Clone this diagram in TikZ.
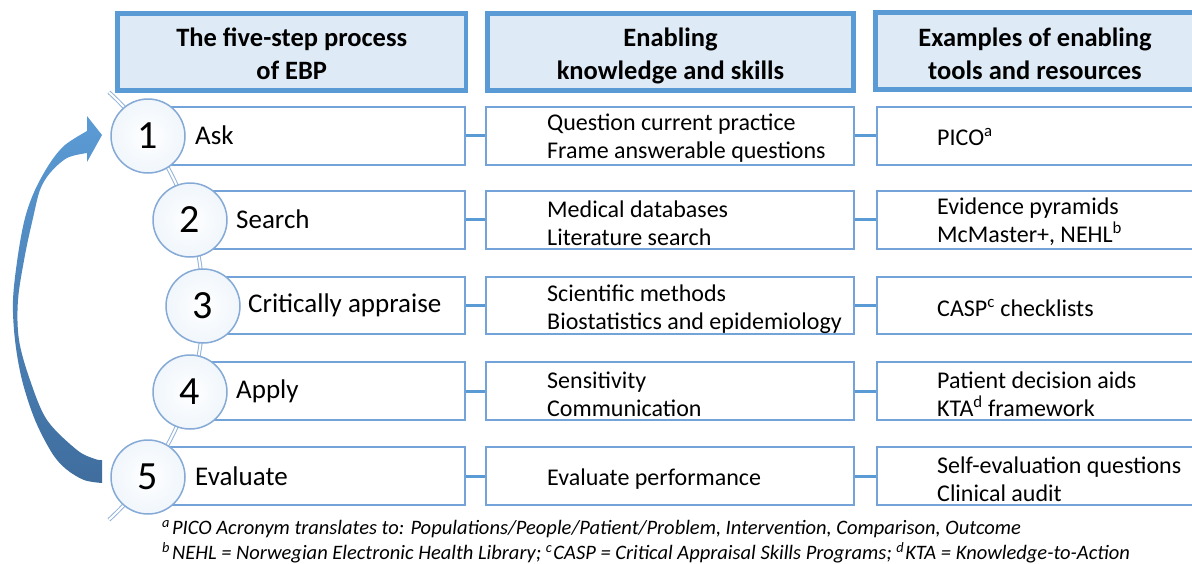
\documentclass[tikz,border=0pt]{standalone}
\usepackage{fontspec}
\setmainfont{Carlito}
\definecolor{hdrblue}{HTML}{5B9BD5}
\definecolor{hdrfill}{HTML}{DEEBF7}
\definecolor{boxblue}{HTML}{74A3DA}
\definecolor{circblue}{HTML}{86AAD6}
\definecolor{chainblue}{HTML}{93B3DA}
\definecolor{arrowtop}{HTML}{5B9BD5}
\definecolor{arrowbot}{HTML}{3F6D9E}
\begin{document}
\begin{tikzpicture}[x=1pt,y=-1pt,
  hdr/.style={draw=hdrblue, line width=4.5pt, fill=hdrfill, inner sep=0pt, minimum height=77pt},
  hdrtext/.style={align=center, inner sep=0pt, font=\fontsize{26.5}{33}\selectfont\bfseries},
  rowbox/.style={draw=boxblue, line width=2pt, fill=white, inner sep=0pt, minimum height=58pt},
  stepcirc/.style={circle, draw=circblue, line width=1.5pt, inner color=white, outer color=hdrfill!45,
    minimum size=74pt, inner sep=0pt, font=\fontsize{40}{40}\selectfont},
  lbl/.style={anchor=west, inner sep=0pt, font=\fontsize{27}{32}\selectfont},
  txt/.style={anchor=west, inner sep=0pt, align=left, font=\fontsize{24}{28}\selectfont},
  note/.style={anchor=west, inner sep=0pt, font=\fontsize{20.5}{24}\selectfont\itshape},
  link/.style={draw=hdrblue, line width=3pt},
  chain/.style={draw=chainblue, line width=1pt, double=white, double distance=2pt}]
\clip (0,0) rectangle (1192,563);

% loop-back arrow on the left
\shade[top color=arrowtop, bottom color=arrowbot]
  plot[smooth, tension=0.55] coordinates {(102,483) (84,480) (66,469) (52,453) (35,420) (22,380)
    (15,340) (13,300) (18,255) (25,218) (35,190) (50,163) (65,145) (87,131)}
  -- (87,116) -- (102,135) -- (87,162) --
  plot[smooth, tension=0.55] coordinates {(87,153) (67,158) (50,173) (40,190) (33,218) (25,255)
    (18,300) (19,340) (30,380) (47,420) (77,450) (95,459) (102,460)}
  -- cycle;

% chain linking the step circles
\draw[chain] (-87,306) ++(-47.5:290) arc[start angle=-47.5, end angle=47.5, radius=290];

% column headers
\node[hdr, minimum width=348.5pt] (h1) at (291.75,52) {};
\node[hdr, minimum width=366pt] (h2) at (670.5,52) {};
\node[hdr, minimum width=340pt] (h3) at (1045.5,51) {};
\node[hdrtext] (h1t) at (291.75,56) {The five-step process\strut\\of EBP\strut};
\node[hdrtext] (h2t) at (670.5,56) {Enabling\strut\\knowledge and skills\strut};
\node[hdrtext] (h3t) at (1035,56) {Examples of enabling\strut\\tools and resources\strut};

% step boxes
\node[rowbox, minimum width=317pt] (a1) at (306.5,135.5) {};
\node[rowbox, minimum width=275pt] (a2) at (327.5,219.5) {};
\node[rowbox, minimum width=262pt, minimum height=57pt] (a3) at (334,305.5) {};
\node[rowbox, minimum width=275pt] (a4) at (327.5,391) {};
\node[rowbox, minimum width=317pt] (a5) at (306.5,476) {};

\node[rowbox, minimum width=368pt] (b1) at (670,135.5) {};
\node[rowbox, minimum width=368pt] (b2) at (670,219.5) {};
\node[rowbox, minimum width=368pt, minimum height=57pt] (b3) at (670,305.5) {};
\node[rowbox, minimum width=368pt] (b4) at (670,391) {};
\node[rowbox, minimum width=368pt] (b5) at (670,476) {};

\node[rowbox, minimum width=332pt] (c1) at (1043,135.5) {};
\node[rowbox, minimum width=332pt] (c2) at (1043,219.5) {};
\node[rowbox, minimum width=332pt, minimum height=57pt] (c3) at (1043,305.5) {};
\node[rowbox, minimum width=332pt] (c4) at (1043,391) {};
\node[rowbox, minimum width=332pt] (c5) at (1043,476) {};

% links between columns
\foreach \i in {1,...,5} {
  \draw[link] (a\i.east) -- (b\i.west);
  \draw[link] (b\i.east) -- (c\i.west);
}

% step circles
\node[stepcirc] (s1) at (148,136) {1};
\node[stepcirc] (s2) at (190,220) {2};
\node[stepcirc] (s3) at (203,306) {3};
\node[stepcirc] (s4) at (190,392) {4};
\node[stepcirc] (s5) at (148,477) {5};

% step names
\node[lbl] (l1) at (195,135.5) {Ask};
\node[lbl] (l2) at (236,219.5) {Search};
\node[lbl] (l3) at (248,305.5) {Critically appraise};
\node[lbl] (l4) at (236,391) {Apply};
\node[lbl] (l5) at (195,476) {Evaluate};

% knowledge and skills
\node[txt] (k1) at (547,138.5) {Question current practice\\Frame answerable questions};
\node[txt] (k2) at (547,223) {Medical databases\\Literature search};
\node[txt] (k3) at (547,309.5) {Scientific methods\\Biostatistics and epidemiology};
\node[txt] (k4) at (547,394) {Sensitivity\\Communication};
\node[txt] (k5) at (547,479) {Evaluate performance};

% tools and resources
\node[txt] (t1) at (937,137) {PICO\textsuperscript{a}};
\node[txt] (t2) at (937,222) {Evidence pyramids\\McMaster+, NEHL\textsuperscript{b}};
\node[txt] (t3) at (937,308) {CASP\textsuperscript{c} checklists};
\node[txt] (t4) at (937,394) {Patient decision aids\\KTA\textsuperscript{d} framework};
\node[txt] (t5) at (937,479) {Self-evaluation questions\\Clinical audit};

% footnotes
\node[note] (n1) at (162,529) {\textsuperscript{a}\kern2pt PICO Acronym translates to: Populations/People/Patient/Problem, Intervention, Comparison, Outcome};
\node[note] (n2) at (162,553) {\textsuperscript{b}\kern2pt NEHL = Norwegian Electronic Health Library; \textsuperscript{c}\kern1pt CASP = Critical Appraisal Skills Programs; \textsuperscript{d}\kern1pt KTA = Knowledge-to-Action};
\end{tikzpicture}
\end{document}
